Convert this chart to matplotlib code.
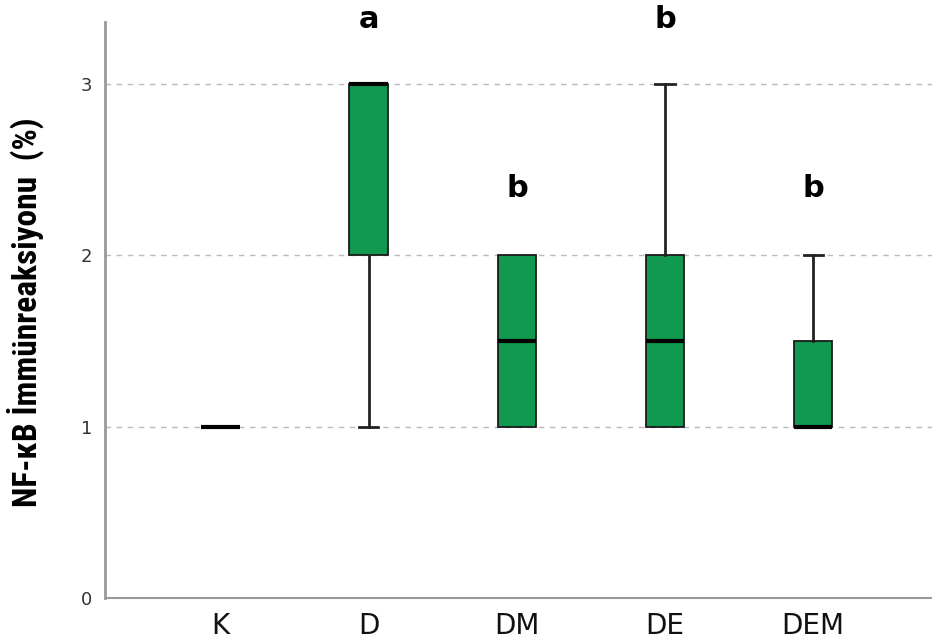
import matplotlib
matplotlib.use("Agg")
import matplotlib.pyplot as plt
from matplotlib import font_manager as fm

groups = ["K", "D", "DM", "DE", "DEM"]
q1 = [1, 2, 1, 1, 1]
med = [1, 3, 1.5, 1.5, 1]
q3 = [1, 3, 2, 2, 1.5]
wlo = [1, 1, 1, 1, 1]
whi = [1, 3, 2, 3, 2]
letters = ["", "a", "b", "b", "b"]
letter_y = [None, 3.375, 2.39, 3.375, 2.39]
yticks = [0, 1, 2, 3]

names = {f.name for f in fm.fontManager.ttflist}
label_family = None
for cand in ["Liberation Sans Narrow", "DejaVu Sans Condensed", "Roboto Condensed", "Open Sans Condensed"]:
    if cand in names:
        label_family = cand
        break

fig = plt.figure(figsize=(9.32, 6.42), dpi=100)
ax = fig.add_axes([0.1127, 0.0685, 0.887, 0.897])

stats = []
for i, g in enumerate(groups):
    stats.append(dict(label=g, q1=q1[i], med=med[i], q3=q3[i],
                      whislo=wlo[i], whishi=whi[i], fliers=[]))

res = ax.bxp(stats, positions=range(len(groups)), widths=0.26, patch_artist=True,
             showfliers=False,
             boxprops=dict(facecolor="#119a4f", edgecolor="#1a1a1a", linewidth=1.3),
             medianprops=dict(color="black", linewidth=3),
             whiskerprops=dict(color="#222222", linewidth=2),
             capprops=dict(color="#222222", linewidth=2),
             capwidths=0.13)

# hide caps where the whisker has zero length
for i in range(len(groups)):
    lo_cap, hi_cap = res["caps"][2 * i], res["caps"][2 * i + 1]
    if wlo[i] >= q1[i] and i != 0:
        lo_cap.set_visible(False)
    if whi[i] <= q3[i] and i != 0 and i != 1:
        hi_cap.set_visible(False)
    if i == 0:
        lo_cap.set_visible(False)
        hi_cap.set_visible(False)

for i, t in enumerate(letters):
    if t:
        ax.text(i, letter_y[i], t, ha="center", va="center", fontsize=22,
                fontweight="bold", color="black", clip_on=False)

ax.set_ylim(0, 3.36)
ax.set_xlim(-0.78, 4.8)
ax.set_yticks(yticks)
ax.set_yticklabels([str(v) for v in yticks], fontsize=13, color="#333333")
ax.set_xticks(range(len(groups)))
ax.set_xticklabels(groups, fontsize=20, color="#111111")
ax.tick_params(axis="y", length=0, pad=9)
ax.tick_params(axis="x", length=0, pad=10)
for y in yticks[1:]:
    ax.axhline(y, color="#bbbbbb", linestyle=(0, (4, 4)), linewidth=1, zorder=0)
for s in ["top", "right"]:
    ax.spines[s].set_visible(False)
ax.spines["left"].set_color("#999999")
ax.spines["left"].set_linewidth(2)
ax.spines["bottom"].set_color("#999999")
ax.spines["bottom"].set_linewidth(1.5)

lab_kw = dict(fontsize=24, fontweight="bold")
if label_family:
    lab_kw["family"] = label_family
else:
    lab_kw["fontstretch"] = "condensed"
    lab_kw["fontsize"] = 20
ax.set_ylabel("NF-κB İmmünreaksiyonu  (%)", **lab_kw)
ax.yaxis.set_label_coords(-0.074, 0.497)

fig.savefig("out.png", dpi=100)
